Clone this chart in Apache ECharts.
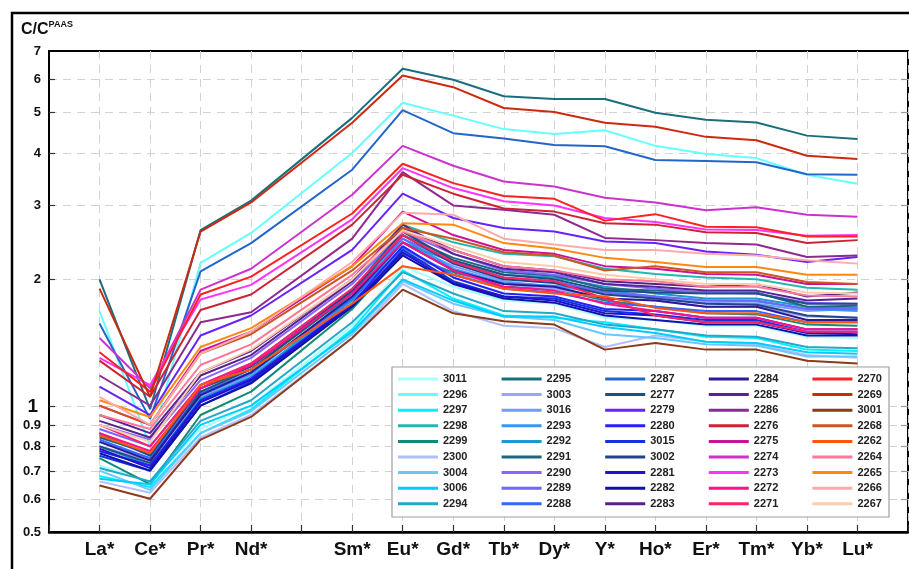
<!DOCTYPE html>
<html><head><meta charset="utf-8">
<script src="https://cdn.jsdelivr.net/npm/echarts@6/dist/echarts.min.js"></script>
<style>html,body{margin:0;padding:0;background:#fff}#c{width:909px;height:569px}</style>
</head><body><div id="c"></div>
<script>
// Elements (x categories); a blank slot is kept for Pm between Nd and Sm
const elements = ['La*','Ce*','Pr*','Nd*','Sm*','Eu*','Gd*','Tb*','Dy*','Y*','Ho*','Er*','Tm*','Yb*','Lu*'];
const yTicks = [0.5,0.6,0.7,0.8,0.9,1,2,3,4,5,6,7];
const yTickLabels = ['0.5','0.6','0.7','0.8','0.9','1','2','3','4','5','6','7'];

// Series values: La, Ce, Pr, Nd, Sm, Eu, Gd, Tb, Dy, Y, Ho, Er, Tm, Yb, Lu
const s3011 = [0.72,0.66,0.88,1.00,1.55,2.15,1.92,1.78,1.75,1.62,1.60,1.55,1.55,1.46,1.45];
const s2296 = [1.68,0.80,2.19,2.58,4.00,5.27,4.91,4.56,4.44,4.53,4.16,3.98,3.89,3.55,3.38];
const s2297 = [0.68,0.64,0.86,0.98,1.52,2.10,1.80,1.64,1.62,1.58,1.52,1.46,1.45,1.36,1.35];
const s2298 = [0.78,0.72,1.02,1.15,1.85,2.70,2.45,2.30,2.27,2.12,2.06,2.02,2.00,1.91,1.89];
const s2299 = [0.75,0.65,0.95,1.08,1.70,2.30,2.08,1.92,1.90,1.78,1.72,1.66,1.65,1.56,1.55];
const s2300 = [0.66,0.62,0.84,0.95,1.45,1.95,1.68,1.55,1.53,1.38,1.47,1.42,1.40,1.32,1.30];
const s3004 = [0.70,0.63,0.86,0.97,1.48,1.98,1.75,1.63,1.60,1.48,1.45,1.40,1.39,1.31,1.31];
const s3006 = [0.67,0.65,0.90,1.00,1.50,2.00,1.78,1.63,1.63,1.54,1.49,1.42,1.41,1.34,1.33];
const s2294 = [0.71,0.66,0.92,1.03,1.58,2.08,1.85,1.68,1.66,1.56,1.52,1.47,1.46,1.38,1.37];
const s2295 = [2.00,0.98,2.62,3.08,4.85,6.35,5.98,5.46,5.38,5.38,4.99,4.80,4.73,4.40,4.32];
const s3003 = [0.80,0.74,1.05,1.18,1.75,2.35,2.05,1.95,1.90,1.80,1.78,1.72,1.72,1.63,1.62];
const s3016 = [0.85,0.76,1.08,1.20,1.80,2.45,2.15,1.98,1.92,1.86,1.80,1.76,1.75,1.68,1.70];
const s2293 = [0.82,0.75,1.06,1.19,1.82,2.50,2.12,1.96,1.93,1.88,1.82,1.78,1.77,1.70,1.68];
const s2292 = [0.80,0.72,1.04,1.17,1.78,2.45,2.20,2.05,2.02,1.92,1.85,1.80,1.80,1.72,1.71];
const s2291 = [0.84,0.77,1.10,1.22,1.85,2.55,2.25,2.08,2.04,1.90,1.88,1.86,1.86,1.72,1.73];
const s2290 = [0.90,0.83,1.15,1.30,1.95,2.60,2.30,2.10,2.05,1.95,1.90,1.86,1.85,1.76,1.75];
const s2289 = [0.88,0.80,1.12,1.26,1.90,2.50,2.20,2.02,1.98,1.86,1.82,1.78,1.78,1.70,1.70];
const s2288 = [0.83,0.75,1.07,1.20,1.80,2.38,2.05,1.90,1.86,1.76,1.72,1.68,1.68,1.58,1.58];
const s2287 = [1.57,0.93,2.09,2.44,3.65,5.06,4.46,4.33,4.18,4.15,3.85,3.83,3.80,3.56,3.55];
const s2277 = [0.80,0.73,1.08,1.22,1.88,2.60,2.22,2.05,2.00,1.88,1.86,1.85,1.85,1.75,1.75];
const s2279 = [1.11,0.95,1.47,1.64,2.35,3.20,2.80,2.65,2.60,2.46,2.44,2.33,2.29,2.20,2.26];
const s2280 = [0.78,0.72,1.03,1.16,1.75,2.40,2.02,1.85,1.82,1.70,1.68,1.62,1.62,1.52,1.52];
const s3015 = [0.76,0.70,1.00,1.14,1.72,2.35,1.98,1.82,1.80,1.68,1.65,1.60,1.60,1.50,1.50];
const s3002 = [0.86,0.76,1.10,1.24,1.88,2.55,2.18,2.00,1.96,1.84,1.80,1.75,1.74,1.64,1.62];
const s2281 = [0.79,0.71,1.02,1.15,1.74,2.32,1.96,1.82,1.78,1.66,1.64,1.58,1.58,1.49,1.48];
const s2282 = [0.77,0.70,1.00,1.13,1.72,2.28,1.95,1.80,1.76,1.64,1.60,1.56,1.56,1.47,1.47];
const s2283 = [0.92,0.84,1.18,1.32,1.98,2.65,2.35,2.15,2.10,1.98,1.95,1.92,1.95,1.82,1.86];
const s2284 = [0.82,0.74,1.06,1.20,1.82,2.45,2.10,1.95,1.92,1.80,1.78,1.72,1.72,1.60,1.60];
const s2285 = [0.95,0.86,1.20,1.35,2.00,2.70,2.30,2.12,2.08,1.95,1.92,1.88,1.88,1.78,1.80];
const s2286 = [1.18,1.00,1.58,1.67,2.50,3.60,3.00,2.93,2.85,2.51,2.48,2.44,2.42,2.26,2.28];
const s2276 = [1.28,1.05,1.69,1.84,2.70,3.55,3.20,2.95,2.90,2.72,2.70,2.59,2.58,2.44,2.48];
const s2275 = [1.00,0.90,1.35,1.50,2.15,2.90,2.55,2.35,2.30,2.15,2.12,2.06,2.05,1.95,1.95];
const s2274 = [1.45,1.10,1.89,2.12,3.18,4.16,3.73,3.42,3.33,3.13,3.05,2.92,2.97,2.85,2.82];
const s2273 = [1.30,1.12,1.79,1.94,2.78,3.68,3.30,3.07,3.00,2.80,2.74,2.63,2.62,2.54,2.55];
const s2272 = [0.86,0.78,1.10,1.25,1.85,2.45,2.10,1.92,1.88,1.75,1.68,1.62,1.62,1.52,1.52];
const s2271 = [0.90,0.80,1.12,1.26,1.90,2.55,2.20,2.02,1.98,1.80,1.64,1.58,1.58,1.50,1.50];
const s2270 = [1.34,1.08,1.84,2.03,2.87,3.77,3.39,3.16,3.11,2.76,2.86,2.67,2.66,2.53,2.53];
const s2269 = [1.90,1.05,2.60,3.05,4.72,6.12,5.74,5.12,5.01,4.72,4.62,4.37,4.29,3.94,3.87];
const s3001 = [0.645,0.60,0.83,0.94,1.45,1.89,1.66,1.59,1.56,1.36,1.41,1.36,1.36,1.28,1.26];
const s2268 = [1.00,0.90,1.33,1.48,2.10,2.65,2.50,2.32,2.28,2.10,2.15,2.08,2.08,1.97,1.95];
const s2262 = [0.85,0.77,1.12,1.22,1.75,2.15,2.05,1.90,1.85,1.82,1.71,1.66,1.66,1.58,1.58];
const s2264 = [0.95,0.88,1.25,1.40,2.05,2.60,2.35,2.15,2.10,2.00,1.98,1.92,1.92,1.83,1.82];
const s2265 = [1.03,0.94,1.38,1.53,2.15,2.72,2.70,2.44,2.37,2.25,2.20,2.14,2.14,2.05,2.05];
const s2266 = [1.05,0.90,1.33,1.50,2.20,2.88,2.85,2.50,2.42,2.35,2.35,2.30,2.28,2.22,2.18];
const s2267 = [0.90,0.82,1.20,1.36,2.00,2.62,2.40,2.20,2.15,2.05,2.00,1.95,1.95,1.86,1.85];

const seriesNames = ['3011','2296','2297','2298','2299','2300','3004','3006','2294',
  '2295','3003','3016','2293','2292','2291','2290','2289','2288',
  '2287','2277','2279','2280','3015','3002','2281','2282','2283',
  '2284','2285','2286','2276','2275','2274','2273','2272','2271',
  '2270','2269','3001','2268','2262','2264','2265','2266','2267'];
const seriesValues = [s3011,s2296,s2297,s2298,s2299,s2300,s3004,s3006,s2294,
  s2295,s3003,s3016,s2293,s2292,s2291,s2290,s2289,s2288,
  s2287,s2277,s2279,s2280,s3015,s3002,s2281,s2282,s2283,
  s2284,s2285,s2286,s2276,s2275,s2274,s2273,s2272,s2271,
  s2270,s2269,s3001,s2268,s2262,s2264,s2265,s2266,s2267];
const seriesColors = ['#A8FFFF','#66FFFF','#00F0FF','#22B8B0','#138A78','#B0C0FF','#66C8FF','#00CCFF','#22A8C8',
  '#1B6E7E','#A0A0FF','#7799FF','#3399FF','#1F99CC','#1F6680','#8866FF','#6F66FF','#3366FF',
  '#2266CC','#1F4F80','#6622FF','#2222FF','#1133DD','#224488','#2211CC','#1111AA','#552288',
  '#2A1A99','#552299','#8E2A8E','#CC2233','#CC1199','#CC33CC','#FF33FF','#FF1188','#FF2266',
  '#FF2020','#CC2A10','#8B3A1A','#CC5520','#FF5511','#FF7799','#FF8811','#FFAAAA','#FFCCAA'];

// axis categories: padding slot, La..Nd, Pm gap, Sm..Lu, padding slot
const axisCats = [' '].concat(elements.slice(0,4), ['  '], elements.slice(4), ['   ']);
function toAxisData(v){ return [null].concat(v.slice(0,4), [null], v.slice(4), [null]); }

const chart = echarts.init(document.getElementById('c'), null, {renderer:'canvas'});
const FONT = 'Liberation Sans, Arial, sans-serif';

const option = {
  animation: false,
  backgroundColor: '#fff',
  grid: {left: 49, top: 51, right: 1, bottom: 37, show: true, borderColor: '#000', borderWidth: 2,
    backgroundColor: 'transparent', containLabel: false, outerBoundsMode: 'none'},
  xAxis: {
    type: 'category', data: axisCats, boundaryGap: false,
    axisLine: {lineStyle: {color: '#000', width: 2.5}},
    axisTick: {show: true, inside: true, length: 7, interval: 0, lineStyle: {color: '#333', width: 1.2}},
    axisLabel: {interval: 0, margin: 8, fontSize: 19, fontWeight: 'bold', color: '#111', fontFamily: FONT},
    splitLine: {show: true, interval: 0, lineStyle: {color: '#d2d2d2', width: 1, type: [8, 6]}}
  },
  yAxis: {
    type: 'log', logBase: 10, min: 0.5, max: 7,
    axisLine: {show: true, lineStyle: {color: '#000', width: 2}},
    axisTick: {show: false}, axisLabel: {show: false}, splitLine: {show: false}, minorTick: {show: false}
  },
  legend: {
    orient: 'vertical', left: 398, top: 372, height: 142, padding: 0,
    itemGap: 1.6, itemWidth: 40, itemHeight: 3, icon: 'rect',
    selectedMode: false,
    textStyle: {fontSize: 11, fontWeight: 'bold', color: '#222', fontFamily: FONT, width: 57, lineHeight: 14},
    data: seriesNames
  },
  series: seriesNames.map((n, i) => ({
    name: n, type: 'line', data: toAxisData(seriesValues[i]), connectNulls: true,
    symbol: 'none', color: seriesColors[i],
    lineStyle: {width: 2, color: seriesColors[i]}
  }))
};
chart.setOption(option);

function overlay(){
  const g = [];
  const xl = chart.convertToPixel({xAxisIndex: 0}, 0);
  const xr = chart.convertToPixel({xAxisIndex: 0}, axisCats.length - 1);
  yTicks.forEach((v, i) => {
    const y = Math.round(chart.convertToPixel({yAxisIndex: 0}, v)) + 0.5;
    if (i !== 0 && i !== yTicks.length - 1) {
      g.push({type: 'line', silent: true, z: 0, shape: {x1: xl, y1: y, x2: xr, y2: y},
        style: {stroke: '#d2d2d2', lineWidth: 1, lineDash: [8, 6]}});
      g.push({type: 'line', silent: true, z: 5, shape: {x1: xl, y1: y, x2: xl + 6, y2: y},
        style: {stroke: '#333', lineWidth: 1.2}});
      g.push({type: 'line', silent: true, z: 5, shape: {x1: xr - 7, y1: y, x2: xr, y2: y},
        style: {stroke: '#999', lineWidth: 1.2}});
    }
    const big = yTickLabels[i] === '1';
    g.push({type: 'text', silent: true, z: 5, x: big ? 38 : 41, y: y,
      style: {text: yTickLabels[i], align: 'right', verticalAlign: 'middle', fill: '#111',
        fontSize: big ? 19 : 13, fontWeight: 'bold', fontFamily: FONT}});
  });
  // legend box
  g.push({type: 'rect', silent: true, z: 3, shape: {x: 392, y: 367, width: 497, height: 150},
    style: {fill: '#fff', stroke: '#a0a0a0', lineWidth: 1.2}});
  // y-axis title
  g.push({type: 'text', silent: true, z: 5, x: 21, y: 20,
    style: {text: '{a|C/C}{b|PAAS}', fill: '#111',
      rich: {a: {fontSize: 16, fontWeight: 'bold', fontFamily: FONT, fill: '#111', lineHeight: 20},
             b: {fontSize: 9, fontWeight: 'bold', fontFamily: FONT, fill: '#111', verticalAlign: 'top', lineHeight: 12}}}});
  // outer frame
  g.push({type: 'rect', silent: true, z: 6, shape: {x: 12, y: 13, width: 940, height: 620},
    style: {fill: 'none', stroke: '#000', lineWidth: 2.5}});
  chart.setOption({graphic: {elements: g}});
}
overlay();
</script>
</body></html>
